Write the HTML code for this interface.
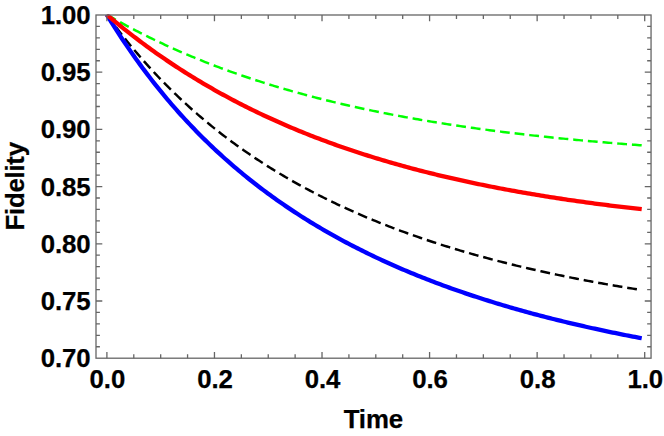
<!DOCTYPE html>
<html><head><meta charset="utf-8"><title>Fidelity vs Time</title>
<style>html,body{margin:0;padding:0;background:#fff;}svg{display:block;}text{font-family:"Liberation Sans",sans-serif;font-weight:bold;fill:#000;stroke:#000;stroke-width:0.25px;letter-spacing:-0.1px;}</style></head><body>
<svg width="664" height="436" viewBox="0 0 664 436">
<rect width="664" height="436" fill="#fff"/>
<defs><clipPath id="c"><rect x="96.0" y="14.6" width="555.05" height="343.60"/></clipPath></defs>
<g clip-path="url(#c)" fill="none" stroke-linejoin="round">
<path d="M106.70,14.60 L108.94,15.89 L111.18,17.17 L113.42,18.44 L115.65,19.70 L117.89,20.94 L120.13,22.18 L122.37,23.40 L124.61,24.62 L126.85,25.82 L129.09,27.02 L131.32,28.20 L133.56,29.37 L135.80,30.54 L138.04,31.69 L140.28,32.83 L142.52,33.96 L144.76,35.09 L147.00,36.20 L149.23,37.31 L151.47,38.40 L153.71,39.49 L155.95,40.56 L158.19,41.63 L160.43,42.69 L162.67,43.73 L164.90,44.77 L167.14,45.80 L169.38,46.82 L171.62,47.84 L173.86,48.84 L176.10,49.84 L178.34,50.82 L180.57,51.80 L182.81,52.77 L185.05,53.73 L187.29,54.68 L189.53,55.63 L191.77,56.57 L194.01,57.49 L196.25,58.41 L198.48,59.33 L200.72,60.23 L202.96,61.13 L205.20,62.02 L207.44,62.90 L209.68,63.77 L211.92,64.64 L214.15,65.50 L216.39,66.35 L218.63,67.19 L220.87,68.03 L223.11,68.86 L225.35,69.68 L227.59,70.50 L229.82,71.31 L232.06,72.11 L234.30,72.90 L236.54,73.69 L238.78,74.47 L241.02,75.24 L243.26,76.01 L245.50,76.77 L247.73,77.53 L249.97,78.27 L252.21,79.01 L254.45,79.75 L256.69,80.48 L258.93,81.20 L261.17,81.92 L263.40,82.63 L265.64,83.33 L267.88,84.03 L270.12,84.72 L272.36,85.40 L274.60,86.08 L276.84,86.76 L279.07,87.42 L281.31,88.09 L283.55,88.74 L285.79,89.39 L288.03,90.04 L290.27,90.68 L292.51,91.31 L294.75,91.94 L296.98,92.57 L299.22,93.18 L301.46,93.80 L303.70,94.40 L305.94,95.00 L308.18,95.60 L310.42,96.19 L312.65,96.78 L314.89,97.36 L317.13,97.94 L319.37,98.51 L321.61,99.08 L323.85,99.64 L326.09,100.19 L328.32,100.75 L330.56,101.29 L332.80,101.84 L335.04,102.37 L337.28,102.91 L339.52,103.44 L341.76,103.96 L343.99,104.48 L346.23,104.99 L348.47,105.51 L350.71,106.01 L352.95,106.51 L355.19,107.01 L357.43,107.50 L359.67,107.99 L361.90,108.48 L364.14,108.96 L366.38,109.43 L368.62,109.91 L370.86,110.38 L373.10,110.84 L375.34,111.30 L377.57,111.76 L379.81,112.21 L382.05,112.66 L384.29,113.10 L386.53,113.54 L388.77,113.98 L391.01,114.41 L393.24,114.84 L395.48,115.27 L397.72,115.69 L399.96,116.11 L402.20,116.52 L404.44,116.93 L406.68,117.34 L408.92,117.74 L411.15,118.15 L413.39,118.54 L415.63,118.94 L417.87,119.33 L420.11,119.71 L422.35,120.10 L424.59,120.48 L426.82,120.85 L429.06,121.23 L431.30,121.60 L433.54,121.97 L435.78,122.33 L438.02,122.69 L440.26,123.05 L442.49,123.40 L444.73,123.76 L446.97,124.10 L449.21,124.45 L451.45,124.79 L453.69,125.13 L455.93,125.47 L458.17,125.80 L460.40,126.13 L462.64,126.46 L464.88,126.79 L467.12,127.11 L469.36,127.43 L471.60,127.75 L473.84,128.06 L476.07,128.37 L478.31,128.68 L480.55,128.99 L482.79,129.29 L485.03,129.59 L487.27,129.89 L489.51,130.19 L491.74,130.48 L493.98,130.77 L496.22,131.06 L498.46,131.35 L500.70,131.63 L502.94,131.91 L505.18,132.19 L507.41,132.46 L509.65,132.74 L511.89,133.01 L514.13,133.28 L516.37,133.54 L518.61,133.81 L520.85,134.07 L523.09,134.33 L525.32,134.59 L527.56,134.84 L529.80,135.10 L532.04,135.35 L534.28,135.60 L536.52,135.84 L538.76,136.09 L540.99,136.33 L543.23,136.57 L545.47,136.81 L547.71,137.04 L549.95,137.28 L552.19,137.51 L554.43,137.74 L556.66,137.97 L558.90,138.19 L561.14,138.42 L563.38,138.64 L565.62,138.86 L567.86,139.08 L570.10,139.30 L572.34,139.51 L574.57,139.72 L576.81,139.93 L579.05,140.14 L581.29,140.35 L583.53,140.56 L585.77,140.76 L588.01,140.96 L590.24,141.16 L592.48,141.36 L594.72,141.56 L596.96,141.75 L599.20,141.95 L601.44,142.14 L603.68,142.33 L605.91,142.52 L608.15,142.70 L610.39,142.89 L612.63,143.07 L614.87,143.25 L617.11,143.44 L619.35,143.61 L621.59,143.79 L623.82,143.97 L626.06,144.14 L628.30,144.31 L630.54,144.49 L632.78,144.66 L635.02,144.82 L637.26,144.99 L639.49,145.16 L641.73,145.32" stroke="#00ff00" stroke-width="2.45" stroke-dasharray="9.82 4.91" stroke-dashoffset="14.08" stroke-linecap="butt"/>
<path d="M106.70,14.60 L108.94,17.67 L111.18,20.71 L113.42,23.71 L115.65,26.67 L117.89,29.60 L120.13,32.49 L122.37,35.35 L124.61,38.17 L126.85,40.96 L129.09,43.71 L131.32,46.44 L133.56,49.13 L135.80,51.78 L138.04,54.41 L140.28,57.01 L142.52,59.57 L144.76,62.11 L147.00,64.62 L149.23,67.09 L151.47,69.54 L153.71,71.97 L155.95,74.36 L158.19,76.73 L160.43,79.07 L162.67,81.38 L164.90,83.67 L167.14,85.93 L169.38,88.17 L171.62,90.38 L173.86,92.57 L176.10,94.73 L178.34,96.87 L180.57,98.99 L182.81,101.08 L185.05,103.15 L187.29,105.20 L189.53,107.22 L191.77,109.23 L194.01,111.21 L196.25,113.17 L198.48,115.11 L200.72,117.03 L202.96,118.93 L205.20,120.81 L207.44,122.67 L209.68,124.51 L211.92,126.34 L214.15,128.14 L216.39,129.92 L218.63,131.69 L220.87,133.44 L223.11,135.17 L225.35,136.88 L227.59,138.57 L229.82,140.25 L232.06,141.91 L234.30,143.55 L236.54,145.18 L238.78,146.79 L241.02,148.39 L243.26,149.97 L245.50,151.53 L247.73,153.08 L249.97,154.61 L252.21,156.13 L254.45,157.63 L256.69,159.12 L258.93,160.59 L261.17,162.05 L263.40,163.50 L265.64,164.93 L267.88,166.34 L270.12,167.75 L272.36,169.14 L274.60,170.52 L276.84,171.88 L279.07,173.23 L281.31,174.57 L283.55,175.89 L285.79,177.21 L288.03,178.51 L290.27,179.80 L292.51,181.07 L294.75,182.34 L296.98,183.59 L299.22,184.83 L301.46,186.06 L303.70,187.28 L305.94,188.48 L308.18,189.68 L310.42,190.87 L312.65,192.04 L314.89,193.20 L317.13,194.36 L319.37,195.50 L321.61,196.63 L323.85,197.75 L326.09,198.86 L328.32,199.97 L330.56,201.06 L332.80,202.14 L335.04,203.21 L337.28,204.28 L339.52,205.33 L341.76,206.37 L343.99,207.41 L346.23,208.43 L348.47,209.45 L350.71,210.46 L352.95,211.46 L355.19,212.45 L357.43,213.43 L359.67,214.40 L361.90,215.36 L364.14,216.32 L366.38,217.27 L368.62,218.21 L370.86,219.14 L373.10,220.06 L375.34,220.98 L377.57,221.88 L379.81,222.78 L382.05,223.68 L384.29,224.56 L386.53,225.44 L388.77,226.31 L391.01,227.17 L393.24,228.02 L395.48,228.87 L397.72,229.71 L399.96,230.54 L402.20,231.37 L404.44,232.19 L406.68,233.00 L408.92,233.80 L411.15,234.60 L413.39,235.39 L415.63,236.18 L417.87,236.96 L420.11,237.73 L422.35,238.49 L424.59,239.25 L426.82,240.01 L429.06,240.75 L431.30,241.49 L433.54,242.23 L435.78,242.96 L438.02,243.68 L440.26,244.39 L442.49,245.10 L444.73,245.81 L446.97,246.51 L449.21,247.20 L451.45,247.89 L453.69,248.57 L455.93,249.24 L458.17,249.92 L460.40,250.58 L462.64,251.24 L464.88,251.89 L467.12,252.54 L469.36,253.19 L471.60,253.83 L473.84,254.46 L476.07,255.09 L478.31,255.71 L480.55,256.33 L482.79,256.94 L485.03,257.55 L487.27,258.15 L489.51,258.75 L491.74,259.34 L493.98,259.93 L496.22,260.52 L498.46,261.10 L500.70,261.67 L502.94,262.24 L505.18,262.81 L507.41,263.37 L509.65,263.92 L511.89,264.48 L514.13,265.02 L516.37,265.57 L518.61,266.11 L520.85,266.64 L523.09,267.17 L525.32,267.70 L527.56,268.22 L529.80,268.74 L532.04,269.25 L534.28,269.76 L536.52,270.27 L538.76,270.77 L540.99,271.27 L543.23,271.76 L545.47,272.25 L547.71,272.74 L549.95,273.22 L552.19,273.70 L554.43,274.17 L556.66,274.64 L558.90,275.11 L561.14,275.57 L563.38,276.03 L565.62,276.49 L567.86,276.94 L570.10,277.39 L572.34,277.84 L574.57,278.28 L576.81,278.72 L579.05,279.15 L581.29,279.58 L583.53,280.01 L585.77,280.44 L588.01,280.86 L590.24,281.28 L592.48,281.69 L594.72,282.11 L596.96,282.51 L599.20,282.92 L601.44,283.32 L603.68,283.72 L605.91,284.12 L608.15,284.51 L610.39,284.90 L612.63,285.29 L614.87,285.67 L617.11,286.05 L619.35,286.43 L621.59,286.81 L623.82,287.18 L626.06,287.55 L628.30,287.92 L630.54,288.28 L632.78,288.64 L635.02,289.00 L637.26,289.36 L639.49,289.71 L641.73,290.06" stroke="#000000" stroke-width="2.45" stroke-dasharray="9.82 4.91" stroke-dashoffset="14.08" stroke-linecap="butt"/>
<path d="M106.70,14.60 L108.94,18.25 L111.18,21.85 L113.42,25.41 L115.65,28.93 L117.89,32.40 L120.13,35.83 L122.37,39.21 L124.61,42.56 L126.85,45.86 L129.09,49.13 L131.32,52.35 L133.56,55.54 L135.80,58.69 L138.04,61.80 L140.28,64.87 L142.52,67.91 L144.76,70.91 L147.00,73.87 L149.23,76.81 L151.47,79.70 L153.71,82.56 L155.95,85.39 L158.19,88.19 L160.43,90.95 L162.67,93.69 L164.90,96.39 L167.14,99.06 L169.38,101.70 L171.62,104.31 L173.86,106.89 L176.10,109.44 L178.34,111.96 L180.57,114.45 L182.81,116.92 L185.05,119.36 L187.29,121.77 L189.53,124.15 L191.77,126.51 L194.01,128.85 L196.25,131.15 L198.48,133.44 L200.72,135.69 L202.96,137.93 L205.20,140.14 L207.44,142.32 L209.68,144.48 L211.92,146.62 L214.15,148.74 L216.39,150.83 L218.63,152.91 L220.87,154.96 L223.11,156.98 L225.35,158.99 L227.59,160.98 L229.82,162.94 L232.06,164.89 L234.30,166.81 L236.54,168.72 L238.78,170.61 L241.02,172.47 L243.26,174.32 L245.50,176.15 L247.73,177.96 L249.97,179.75 L252.21,181.53 L254.45,183.28 L256.69,185.02 L258.93,186.74 L261.17,188.45 L263.40,190.14 L265.64,191.81 L267.88,193.46 L270.12,195.10 L272.36,196.72 L274.60,198.33 L276.84,199.92 L279.07,201.50 L281.31,203.06 L283.55,204.60 L285.79,206.13 L288.03,207.65 L290.27,209.15 L292.51,210.64 L294.75,212.11 L296.98,213.57 L299.22,215.02 L301.46,216.45 L303.70,217.87 L305.94,219.27 L308.18,220.67 L310.42,222.05 L312.65,223.41 L314.89,224.77 L317.13,226.11 L319.37,227.44 L321.61,228.75 L323.85,230.06 L326.09,231.35 L328.32,232.64 L330.56,233.91 L332.80,235.16 L335.04,236.41 L337.28,237.65 L339.52,238.87 L341.76,240.09 L343.99,241.29 L346.23,242.48 L348.47,243.66 L350.71,244.84 L352.95,246.00 L355.19,247.15 L357.43,248.29 L359.67,249.42 L361.90,250.54 L364.14,251.65 L366.38,252.75 L368.62,253.85 L370.86,254.93 L373.10,256.00 L375.34,257.07 L377.57,258.12 L379.81,259.17 L382.05,260.21 L384.29,261.23 L386.53,262.25 L388.77,263.27 L391.01,264.27 L393.24,265.26 L395.48,266.25 L397.72,267.23 L399.96,268.19 L402.20,269.16 L404.44,270.11 L406.68,271.05 L408.92,271.99 L411.15,272.92 L413.39,273.84 L415.63,274.76 L417.87,275.66 L420.11,276.56 L422.35,277.45 L424.59,278.34 L426.82,279.22 L429.06,280.09 L431.30,280.95 L433.54,281.81 L435.78,282.66 L438.02,283.50 L440.26,284.33 L442.49,285.16 L444.73,285.98 L446.97,286.80 L449.21,287.61 L451.45,288.41 L453.69,289.21 L455.93,290.00 L458.17,290.78 L460.40,291.56 L462.64,292.33 L464.88,293.09 L467.12,293.85 L469.36,294.61 L471.60,295.35 L473.84,296.09 L476.07,296.83 L478.31,297.56 L480.55,298.28 L482.79,299.00 L485.03,299.71 L487.27,300.42 L489.51,301.12 L491.74,301.82 L493.98,302.51 L496.22,303.19 L498.46,303.87 L500.70,304.55 L502.94,305.22 L505.18,305.88 L507.41,306.54 L509.65,307.20 L511.89,307.85 L514.13,308.49 L516.37,309.13 L518.61,309.76 L520.85,310.39 L523.09,311.02 L525.32,311.64 L527.56,312.25 L529.80,312.87 L532.04,313.47 L534.28,314.07 L536.52,314.67 L538.76,315.26 L540.99,315.85 L543.23,316.43 L545.47,317.01 L547.71,317.59 L549.95,318.16 L552.19,318.72 L554.43,319.29 L556.66,319.84 L558.90,320.40 L561.14,320.95 L563.38,321.49 L565.62,322.03 L567.86,322.57 L570.10,323.11 L572.34,323.63 L574.57,324.16 L576.81,324.68 L579.05,325.20 L581.29,325.71 L583.53,326.22 L585.77,326.73 L588.01,327.23 L590.24,327.73 L592.48,328.23 L594.72,328.72 L596.96,329.21 L599.20,329.69 L601.44,330.17 L603.68,330.65 L605.91,331.12 L608.15,331.59 L610.39,332.06 L612.63,332.52 L614.87,332.98 L617.11,333.44 L619.35,333.90 L621.59,334.35 L623.82,334.79 L626.06,335.24 L628.30,335.68 L630.54,336.11 L632.78,336.55 L635.02,336.98 L637.26,337.41 L639.49,337.83 L641.73,338.25" stroke="#0000ff" stroke-width="4.3" stroke-linecap="butt"/>
<path d="M106.70,14.60 L108.94,16.50 L111.18,18.38 L113.42,20.25 L115.65,22.10 L117.89,23.94 L120.13,25.76 L122.37,27.57 L124.61,29.36 L126.85,31.13 L129.09,32.89 L131.32,34.64 L133.56,36.37 L135.80,38.08 L138.04,39.78 L140.28,41.47 L142.52,43.14 L144.76,44.80 L147.00,46.44 L149.23,48.07 L151.47,49.69 L153.71,51.29 L155.95,52.88 L158.19,54.45 L160.43,56.02 L162.67,57.56 L164.90,59.10 L167.14,60.62 L169.38,62.13 L171.62,63.63 L173.86,65.11 L176.10,66.58 L178.34,68.04 L180.57,69.49 L182.81,70.92 L185.05,72.34 L187.29,73.75 L189.53,75.15 L191.77,76.54 L194.01,77.91 L196.25,79.27 L198.48,80.63 L200.72,81.96 L202.96,83.29 L205.20,84.61 L207.44,85.92 L209.68,87.21 L211.92,88.49 L214.15,89.77 L216.39,91.03 L218.63,92.28 L220.87,93.52 L223.11,94.75 L225.35,95.97 L227.59,97.18 L229.82,98.38 L232.06,99.57 L234.30,100.75 L236.54,101.91 L238.78,103.07 L241.02,104.22 L243.26,105.36 L245.50,106.49 L247.73,107.61 L249.97,108.72 L252.21,109.82 L254.45,110.91 L256.69,112.00 L258.93,113.07 L261.17,114.13 L263.40,115.19 L265.64,116.23 L267.88,117.27 L270.12,118.30 L272.36,119.32 L274.60,120.33 L276.84,121.33 L279.07,122.33 L281.31,123.31 L283.55,124.29 L285.79,125.26 L288.03,126.22 L290.27,127.17 L292.51,128.12 L294.75,129.05 L296.98,129.98 L299.22,130.90 L301.46,131.81 L303.70,132.72 L305.94,133.62 L308.18,134.51 L310.42,135.39 L312.65,136.26 L314.89,137.13 L317.13,137.99 L319.37,138.84 L321.61,139.69 L323.85,140.52 L326.09,141.36 L328.32,142.18 L330.56,143.00 L332.80,143.81 L335.04,144.61 L337.28,145.41 L339.52,146.20 L341.76,146.98 L343.99,147.75 L346.23,148.52 L348.47,149.29 L350.71,150.04 L352.95,150.79 L355.19,151.54 L357.43,152.27 L359.67,153.01 L361.90,153.73 L364.14,154.45 L366.38,155.16 L368.62,155.87 L370.86,156.57 L373.10,157.26 L375.34,157.95 L377.57,158.64 L379.81,159.31 L382.05,159.98 L384.29,160.65 L386.53,161.31 L388.77,161.96 L391.01,162.61 L393.24,163.26 L395.48,163.90 L397.72,164.53 L399.96,165.15 L402.20,165.78 L404.44,166.39 L406.68,167.00 L408.92,167.61 L411.15,168.21 L413.39,168.81 L415.63,169.40 L417.87,169.98 L420.11,170.56 L422.35,171.14 L424.59,171.71 L426.82,172.28 L429.06,172.84 L431.30,173.40 L433.54,173.95 L435.78,174.49 L438.02,175.04 L440.26,175.58 L442.49,176.11 L444.73,176.64 L446.97,177.16 L449.21,177.68 L451.45,178.20 L453.69,178.71 L455.93,179.21 L458.17,179.72 L460.40,180.22 L462.64,180.71 L464.88,181.20 L467.12,181.68 L469.36,182.17 L471.60,182.64 L473.84,183.12 L476.07,183.59 L478.31,184.05 L480.55,184.51 L482.79,184.97 L485.03,185.42 L487.27,185.87 L489.51,186.32 L491.74,186.76 L493.98,187.20 L496.22,187.63 L498.46,188.07 L500.70,188.49 L502.94,188.92 L505.18,189.34 L507.41,189.75 L509.65,190.17 L511.89,190.58 L514.13,190.98 L516.37,191.38 L518.61,191.78 L520.85,192.18 L523.09,192.57 L525.32,192.96 L527.56,193.35 L529.80,193.73 L532.04,194.11 L534.28,194.48 L536.52,194.86 L538.76,195.23 L540.99,195.59 L543.23,195.96 L545.47,196.32 L547.71,196.67 L549.95,197.03 L552.19,197.38 L554.43,197.73 L556.66,198.07 L558.90,198.42 L561.14,198.75 L563.38,199.09 L565.62,199.42 L567.86,199.76 L570.10,200.08 L572.34,200.41 L574.57,200.73 L576.81,201.05 L579.05,201.37 L581.29,201.68 L583.53,201.99 L585.77,202.30 L588.01,202.61 L590.24,202.91 L592.48,203.21 L594.72,203.51 L596.96,203.81 L599.20,204.10 L601.44,204.39 L603.68,204.68 L605.91,204.97 L608.15,205.25 L610.39,205.53 L612.63,205.81 L614.87,206.09 L617.11,206.36 L619.35,206.64 L621.59,206.91 L623.82,207.17 L626.06,207.44 L628.30,207.70 L630.54,207.96 L632.78,208.22 L635.02,208.48 L637.26,208.73 L639.49,208.98 L641.73,209.23" stroke="#ff0000" stroke-width="4.3" stroke-linecap="butt"/>
</g>
<g stroke="#666666" stroke-width="1.3" fill="none">
<rect x="96.0" y="15.0" width="555.05" height="343.20"/>
<path d="M106.90,358.2v-6.3M106.90,15.0v6.3M133.79,358.2v-3.9M133.79,15.0v3.9M160.68,358.2v-3.9M160.68,15.0v3.9M187.57,358.2v-3.9M187.57,15.0v3.9M214.46,358.2v-6.3M214.46,15.0v6.3M241.35,358.2v-3.9M241.35,15.0v3.9M268.24,358.2v-3.9M268.24,15.0v3.9M295.13,358.2v-3.9M295.13,15.0v3.9M322.02,358.2v-6.3M322.02,15.0v6.3M348.91,358.2v-3.9M348.91,15.0v3.9M375.80,358.2v-3.9M375.80,15.0v3.9M402.69,358.2v-3.9M402.69,15.0v3.9M429.58,358.2v-6.3M429.58,15.0v6.3M456.47,358.2v-3.9M456.47,15.0v3.9M483.36,358.2v-3.9M483.36,15.0v3.9M510.25,358.2v-3.9M510.25,15.0v3.9M537.14,358.2v-6.3M537.14,15.0v6.3M564.03,358.2v-3.9M564.03,15.0v3.9M590.92,358.2v-3.9M590.92,15.0v3.9M617.81,358.2v-3.9M617.81,15.0v3.9M644.70,358.2v-6.3M644.70,15.0v6.3M96.0,346.73h3.9M651.05,346.73h-3.9M96.0,335.29h3.9M651.05,335.29h-3.9M96.0,323.85h3.9M651.05,323.85h-3.9M96.0,312.41h3.9M651.05,312.41h-3.9M96.0,300.98h6.3M651.05,300.98h-6.3M96.0,289.54h3.9M651.05,289.54h-3.9M96.0,278.10h3.9M651.05,278.10h-3.9M96.0,266.66h3.9M651.05,266.66h-3.9M96.0,255.22h3.9M651.05,255.22h-3.9M96.0,243.78h6.3M651.05,243.78h-6.3M96.0,232.34h3.9M651.05,232.34h-3.9M96.0,220.90h3.9M651.05,220.90h-3.9M96.0,209.46h3.9M651.05,209.46h-3.9M96.0,198.02h3.9M651.05,198.02h-3.9M96.0,186.59h6.3M651.05,186.59h-6.3M96.0,175.15h3.9M651.05,175.15h-3.9M96.0,163.71h3.9M651.05,163.71h-3.9M96.0,152.27h3.9M651.05,152.27h-3.9M96.0,140.83h3.9M651.05,140.83h-3.9M96.0,129.39h6.3M651.05,129.39h-6.3M96.0,117.95h3.9M651.05,117.95h-3.9M96.0,106.51h3.9M651.05,106.51h-3.9M96.0,95.07h3.9M651.05,95.07h-3.9M96.0,83.63h3.9M651.05,83.63h-3.9M96.0,72.20h6.3M651.05,72.20h-6.3M96.0,60.76h3.9M651.05,60.76h-3.9M96.0,49.32h3.9M651.05,49.32h-3.9M96.0,37.88h3.9M651.05,37.88h-3.9M96.0,26.44h3.9M651.05,26.44h-3.9"/>
</g>
<text x="90.5" y="367.27" font-size="25.8" text-anchor="end">0.70</text>
<text x="90.5" y="310.08" font-size="25.8" text-anchor="end">0.75</text>
<text x="90.5" y="252.88" font-size="25.8" text-anchor="end">0.80</text>
<text x="90.5" y="195.69" font-size="25.8" text-anchor="end">0.85</text>
<text x="90.5" y="138.49" font-size="25.8" text-anchor="end">0.90</text>
<text x="90.5" y="81.30" font-size="25.8" text-anchor="end">0.95</text>
<text x="90.5" y="24.10" font-size="25.8" text-anchor="end">1.00</text>
<text x="107.40" y="388.0" font-size="25.8" text-anchor="middle">0.0</text>
<text x="214.96" y="388.0" font-size="25.8" text-anchor="middle">0.2</text>
<text x="322.52" y="388.0" font-size="25.8" text-anchor="middle">0.4</text>
<text x="430.08" y="388.0" font-size="25.8" text-anchor="middle">0.6</text>
<text x="537.64" y="388.0" font-size="25.8" text-anchor="middle">0.8</text>
<text x="645.20" y="388.0" font-size="25.8" text-anchor="middle">1.0</text>
<text x="373.3" y="428.4" font-size="25.8" text-anchor="middle">Time</text>
<text transform="translate(24.1,186.35) rotate(-90)" font-size="25.8" text-anchor="middle" style="letter-spacing:-0.27px">Fidelity</text>
</svg></body></html>
